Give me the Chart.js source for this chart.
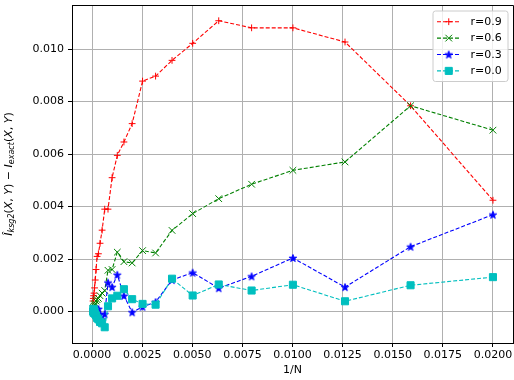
<!DOCTYPE html>
<html>
<head>
<meta charset="utf-8">
<script src="https://cdn.jsdelivr.net/npm/chart.js@4/dist/chart.umd.min.js"></script>
<style>
  html, body { margin: 0; padding: 0; background: #ffffff; }
  canvas { display: block; }
</style>
</head>
<body>
<canvas id="c" width="514" height="380"></canvas>
<script>
// 1/N for sample sizes N = 50 * 10^(k/10)
const invN = [0.02, 0.01589, 0.01262, 0.01002, 0.00796, 0.00632, 0.00502, 0.00399, 0.00317, 0.00252,
              0.002, 0.00159, 0.00126, 0.001, 0.000796, 0.000632, 0.000502, 0.000399, 0.000317, 0.000252,
              0.0002, 0.000159, 0.000126, 0.0001, 0.0000796, 0.0000632, 0.0000502];

// estimation error for each correlation r
const err09 = [0.00424, 0.00784, 0.01027, 0.01081, 0.01081, 0.01108, 0.01022, 0.00957, 0.00897, 0.00878,
               0.00716, 0.00646, 0.00595, 0.0051, 0.0039, 0.0039, 0.0031, 0.0026, 0.0022, 0.0021,
               0.0016, 0.0012, 0.0009, 0.0007, 0.0006, 0.0005, 0.0004];
const err06 = [0.00691, 0.00784, 0.0057, 0.00538, 0.00485, 0.0043, 0.00373, 0.00309, 0.00223, 0.00232,
               0.00185, 0.0019, 0.00226, 0.0016, 0.00157, 0.0008, 0.0007, 0.0006, 0.0005, 0.00045,
               0.0004, 0.0003, 0.00025, 0.0002, 0.00015, 0.0001, 0.00008];
const err03 = [0.00369, 0.00247, 0.00093, 0.00204, 0.00134, 0.00089, 0.00148, 0.0012, 0.00036, 0.00018,
               -0.00003, 0.0006, 0.0014, 0.00093, 0.0011, -0.0001, -0.0003, -0.0001, 0.0001, 0.0,
               0.0001, -0.0001, 0.0, 0.00005, -0.00005, 0.00002, 0.0];
const err00 = [0.00131, 0.001, 0.00039, 0.00102, 0.0008, 0.00103, 0.00061, 0.00125, 0.00026, 0.00029,
               0.00047, 0.00085, 0.0006, 0.0005, 0.0002, -0.0006, -0.00045, -0.0004, -0.0003, -0.00025,
               -0.00015, -0.0001, 0.0, 0.00005, -0.00005, 0.0001, 0.0];

const seriesLabels = ['r=0.9', 'r=0.6', 'r=0.3', 'r=0.0'];
const xTicks = [0, 0.0025, 0.005, 0.0075, 0.01, 0.0125, 0.015, 0.0175, 0.02];
const yTicks = [0, 0.002, 0.004, 0.006, 0.008, 0.010];

const FONT = "'DejaVu Sans', 'Liberation Sans', sans-serif";

// filled five-pointed star marker
function makeStar(color) {
  const cv = document.createElement('canvas');
  cv.width = 12; cv.height = 12;
  const g = cv.getContext('2d');
  const R = 3.9, r = R * 0.382;
  g.beginPath();
  for (let i = 0; i < 10; i++) {
    const rad = i % 2 === 0 ? R : r;
    const a = -Math.PI / 2 + i * Math.PI / 5;
    const px = 6 + rad * Math.cos(a), py = 6.4 + rad * Math.sin(a);
    if (i === 0) g.moveTo(px, py); else g.lineTo(px, py);
  }
  g.closePath();
  g.fillStyle = color; g.fill();
  g.lineWidth = 1; g.strokeStyle = color; g.lineJoin = 'round'; g.stroke();
  return cv;
}
const starBlue = makeStar('#0000ff');

function pts(vals) { return invN.map((x, i) => ({ x: x, y: vals[i] })); }

function series(label, vals, color, style, radius, order) {
  return {
    label: label,
    data: pts(vals),
    showLine: true,
    borderColor: color,
    backgroundColor: color,
    borderWidth: 1.1,
    borderDash: [4, 2],
    pointStyle: style,
    pointRadius: radius,
    pointHoverRadius: radius,
    pointBorderWidth: 1,
    pointBorderColor: color,
    pointBackgroundColor: color,
    tension: 0,
    fill: false,
    order: order
  };
}

// axes frame on the top and right sides
const framePlugin = {
  id: 'frame',
  afterDatasetsDraw(chart) {
    const { ctx, chartArea: a } = chart;
    const al = p => Math.round(p - 0.5) + 0.5;
    ctx.save();
    ctx.strokeStyle = '#000000';
    ctx.lineWidth = 1;
    ctx.beginPath();
    ctx.moveTo(al(a.left), al(a.top));
    ctx.lineTo(al(a.right), al(a.top));
    ctx.lineTo(al(a.right), al(a.bottom));
    ctx.stroke();
    ctx.restore();
  }
};

// legend box in the upper right: dashed sample line with marker
const legendPlugin = {
  id: 'boxLegend',
  afterDraw(chart) {
    const { ctx, chartArea: a } = chart;
    const bx = a.right - 80, by = a.top + 6, bw = 75, bh = 70.5, rr = 2.5;
    ctx.save();
    ctx.beginPath();
    ctx.moveTo(bx + rr, by);
    ctx.lineTo(bx + bw - rr, by);
    ctx.arcTo(bx + bw, by, bx + bw, by + rr, rr);
    ctx.lineTo(bx + bw, by + bh - rr);
    ctx.arcTo(bx + bw, by + bh, bx + bw - rr, by + bh, rr);
    ctx.lineTo(bx + rr, by + bh);
    ctx.arcTo(bx, by + bh, bx, by + bh - rr, rr);
    ctx.lineTo(bx, by + rr);
    ctx.arcTo(bx, by, bx + rr, by, rr);
    ctx.closePath();
    ctx.fillStyle = 'rgba(255,255,255,0.8)';
    ctx.fill();
    ctx.strokeStyle = '#cccccc';
    ctx.lineWidth = 1;
    ctx.stroke();

    chart.data.datasets.forEach((ds, i) => {
      const y = by + 10.7 + i * 16.4;
      const x0 = bx + 4, x1 = bx + 27.5, xm = (x0 + x1) / 2;
      ctx.save();
      ctx.strokeStyle = ds.borderColor;
      ctx.lineWidth = ds.borderWidth;
      ctx.setLineDash(ds.borderDash);
      ctx.beginPath();
      ctx.moveTo(x0, y); ctx.lineTo(x1, y);
      ctx.stroke();
      ctx.restore();
      ctx.save();
      ctx.fillStyle = ds.pointBackgroundColor;
      ctx.strokeStyle = ds.pointBorderColor;
      ctx.lineWidth = ds.pointBorderWidth;
      ctx.setLineDash([]);
      Chart.helpers.drawPoint(ctx, {
        pointStyle: ds.pointStyle,
        radius: ds.pointRadius,
        borderWidth: ds.pointBorderWidth,
        rotation: 0
      }, xm, y);
      ctx.restore();
      ctx.fillStyle = '#000000';
      ctx.font = '11px ' + FONT;
      ctx.textBaseline = 'middle';
      ctx.textAlign = 'left';
      ctx.fillText(ds.label, bx + 37.5, y + 0.5);
    });
    ctx.restore();
  }
};

// rotated y-axis title with subscripts
const yTitlePlugin = {
  id: 'yTitle',
  afterDraw(chart) {
    const { ctx, chartArea: a } = chart;
    const big = 11, small = 8;
    const parts = [
      { t: 'Î', it: true, s: big, d: 0 },
      { t: 'ksg2', it: true, s: small, d: 2.6 },
      { t: '(', it: false, s: big, d: 0 },
      { t: 'X', it: true, s: big, d: 0 },
      { t: ', ', it: false, s: big, d: 0 },
      { t: 'Y', it: true, s: big, d: 0 },
      { t: ') − ', it: false, s: big, d: 0 },
      { t: 'I', it: true, s: big, d: 0 },
      { t: 'exact', it: true, s: small, d: 2.6 },
      { t: '(', it: false, s: big, d: 0 },
      { t: 'X', it: true, s: big, d: 0 },
      { t: ', ', it: false, s: big, d: 0 },
      { t: 'Y', it: true, s: big, d: 0 },
      { t: ')', it: false, s: big, d: 0 }
    ];
    const fontOf = p => (p.it ? 'italic ' : '') + p.s + 'px ' + FONT;
    ctx.save();
    let total = 0;
    parts.forEach(p => { ctx.font = fontOf(p); p.w = ctx.measureText(p.t).width; total += p.w; });
    ctx.translate(9, (a.top + a.bottom) / 2);
    ctx.rotate(-Math.PI / 2);
    ctx.fillStyle = '#000000';
    ctx.textBaseline = 'middle';
    ctx.textAlign = 'left';
    let x = -total / 2;
    parts.forEach(p => {
      ctx.font = fontOf(p);
      ctx.fillText(p.t, x, p.d);
      x += p.w;
    });
    ctx.restore();
  }
};

const tickFont = { family: FONT, size: 11 };

new Chart(document.getElementById('c'), {
  type: 'scatter',
  data: {
    datasets: [
      series(seriesLabels[0], err09, '#ff0000', 'cross', 3.4, 3),
      series(seriesLabels[1], err06, '#008000', 'crossRot', 4.7, 2),
      series(seriesLabels[2], err03, '#0000ff', starBlue, 4, 1),
      series(seriesLabels[3], err00, '#00bfbf', 'rect', 5.0, 0)
    ]
  },
  options: {
    responsive: false,
    animation: false,
    devicePixelRatio: 1,
    layout: { autoPadding: false, padding: { top: 5, right: 1, left: 0, bottom: 0 } },
    plugins: { legend: { display: false }, tooltip: { enabled: false } },
    scales: {
      x: {
        type: 'linear',
        min: -0.001,
        max: 0.021,
        afterBuildTicks: s => { s.ticks = xTicks.map(v => ({ value: v })); },
        afterFit: s => { s.height = 37; s.paddingLeft = 0; s.paddingRight = 0; },
        ticks: {
          callback: v => v.toFixed(4),
          font: tickFont,
          color: '#000000',
          padding: 2,
          maxRotation: 0,
          autoSkip: false
        },
        grid: { color: '#b0b0b0', lineWidth: 1, tickLength: 4, tickColor: '#000000', tickWidth: 1 },
        border: { color: '#000000', width: 1 },
        title: { display: true, text: '1/N', font: tickFont, color: '#000000', padding: { top: 0, bottom: 3 } }
      },
      y: {
        type: 'linear',
        min: -0.0012,
        max: 0.01168,
        afterBuildTicks: s => { s.ticks = yTicks.map(v => ({ value: v })); },
        afterFit: s => { s.width = 72; s.paddingTop = 0; s.paddingBottom = 0; },
        ticks: {
          callback: v => v.toFixed(3),
          font: tickFont,
          color: '#000000',
          padding: 4,
          autoSkip: false
        },
        grid: { color: '#b0b0b0', lineWidth: 1, tickLength: 4, tickColor: '#000000', tickWidth: 1 },
        border: { color: '#000000', width: 1 }
      }
    }
  },
  plugins: [framePlugin, legendPlugin, yTitlePlugin]
});
</script>
</body>
</html>
